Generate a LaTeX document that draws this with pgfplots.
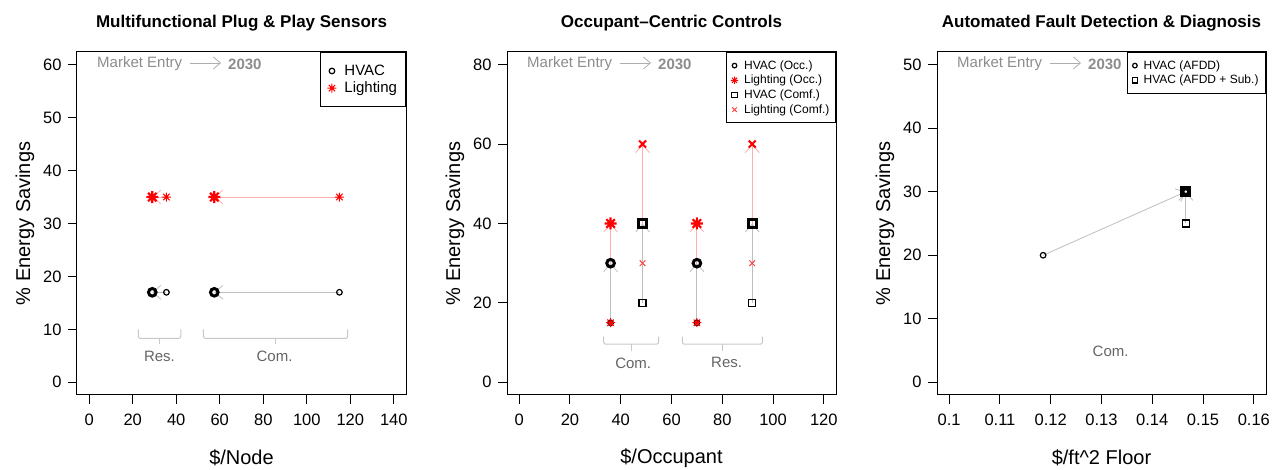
\documentclass[border=0pt]{standalone}
\usepackage{fontspec}
\setmainfont{Liberation Sans}
\usepackage{pgfplots}
\pgfplotsset{compat=1.18}
\usetikzlibrary{arrows.meta}
\definecolor{arrgray}{RGB}{190,190,190}
\definecolor{arrpink}{RGB}{255,175,175}
\definecolor{txtgray}{RGB}{140,140,140}
\definecolor{lblgray}{RGB}{100,100,100}
\definecolor{brkgray}{RGB}{200,200,200}
\definecolor{rred}{RGB}{255,0,0}

% R's pch=8: a plus laid over an x
\pgfdeclareplotmark{rast}{%
  \pgfpathmoveto{\pgfqpoint{-\pgfplotmarksize}{0pt}}\pgfpathlineto{\pgfqpoint{\pgfplotmarksize}{0pt}}%
  \pgfpathmoveto{\pgfqpoint{0pt}{-\pgfplotmarksize}}\pgfpathlineto{\pgfqpoint{0pt}{\pgfplotmarksize}}%
  \pgfpathmoveto{\pgfqpoint{-.7071\pgfplotmarksize}{-.7071\pgfplotmarksize}}\pgfpathlineto{\pgfqpoint{.7071\pgfplotmarksize}{.7071\pgfplotmarksize}}%
  \pgfpathmoveto{\pgfqpoint{-.7071\pgfplotmarksize}{.7071\pgfplotmarksize}}\pgfpathlineto{\pgfqpoint{.7071\pgfplotmarksize}{-.7071\pgfplotmarksize}}%
  \pgfusepathqstroke}

\pgfplotsset{
  rplot/.style={
    scale only axis, width=329pt, height=343pt, anchor=south west,
    axis line style={line width=1pt},
    every tick/.style={line width=1pt, black},
    major tick length=9pt, tick align=outside,
    xtick pos=left, ytick pos=left,
    /pgf/number format/assume math mode=true,
    tick label style={font=\fontsize{16.5}{19}\selectfont},
    xticklabel style={yshift=-6pt},
    yticklabel style={xshift=-3pt},
    label style={font=\fontsize{20}{24}\selectfont},
    xlabel style={at={(axis description cs:0.5,-0.1837)}, anchor=center},
    ylabel style={at={(axis description cs:-0.158,0.5)}, anchor=center},
    title style={at={(axis description cs:0.5,1.067)}, anchor=center,
      font=\bfseries\fontsize{17}{20}\selectfont},
    legend style={at={(1,1)}, anchor=north east, draw=black, line width=1pt,
      fill=white},
    legend cell align=left,
  },
  garr/.style={arrgray, line width=0.8pt, forget plot, no markers,
    -{Straight Barb[length=8pt,width=14pt,line width=0.8pt]}},
  parr/.style={arrpink, line width=0.8pt, forget plot, no markers,
    -{Straight Barb[length=8pt,width=14pt,line width=0.8pt]}},
  brk/.style={brkgray, line width=1pt, forget plot, no markers},
  hvS/.style={black, only marks, mark=o, mark size=2.8pt, mark options={line width=1.2pt}},
  hvB/.style={black, only marks, mark=o, mark size=3.8pt, mark options={line width=3pt}},
  ltS/.style={rred, only marks, mark=rast, mark size=4.5pt, mark options={line width=1pt}},
  ltB/.style={rred, only marks, mark=rast, mark size=6pt, mark options={line width=2.2pt}},
  sqS/.style={black, only marks, mark=square, mark size=3.5pt, mark options={line width=1.2pt}},
  sqB/.style={black, only marks, mark=square, mark size=4pt, mark options={line width=3pt}},
  xS/.style={rred!75, only marks, mark=x, mark size=4pt, mark options={line width=1pt}},
  xB/.style={rred, only marks, mark=x, mark size=5pt, mark options={line width=2pt}},
}

\begin{document}
\begin{tikzpicture}
\useasboundingbox (0,0) rectangle (1278pt,470pt);

% ---- panel 1
\begin{axis}[rplot, at={(77pt,75pt)},
  title={Multifunctional Plug \& Play Sensors},
  xlabel={\$/Node}, ylabel={\% Energy Savings},
  xmin=-5.6, xmax=145.6, ymin=-2.4, ymax=62.4,
  xtick={0,20,...,140}, ytick={0,10,...,60},
  legend style={font=\fontsize{15}{17}\selectfont, inner xsep=6.5pt, inner ysep=10.5pt,
    row sep=1pt, /tikz/every odd column/.append style={column sep=6pt}}]
\addlegendimage{hvS}\addlegendentry{HVAC}
\addlegendimage{ltS}\addlegendentry{Lighting}
\addplot[parr] coordinates {(35.5,35) (29,35)};
\addplot[parr] coordinates {(115,35) (57.5,35)};
\addplot[garr] coordinates {(35.5,17) (29,17)};
\addplot[garr] coordinates {(115,17) (57.5,17)};
\addplot[hvS, forget plot] coordinates {(35.5,17) (115,17)};
\addplot[hvB, forget plot] coordinates {(29,17) (57.5,17)};
\addplot[ltS, forget plot] coordinates {(35.5,35) (115,35)};
\addplot[ltB, forget plot] coordinates {(29,35) (57.5,35)};
\addplot[brk, rounded corners=2pt] coordinates {(22.6,10) (22.6,8.3) (42.1,8.3) (42.1,10)};
\addplot[brk] coordinates {(32.35,8.3) (32.35,7.3)};
\addplot[brk, rounded corners=2pt] coordinates {(52.5,10) (52.5,8.3) (118.8,8.3) (118.8,10)};
\addplot[brk] coordinates {(85.6,8.3) (85.6,7.3)};
\node[lblgray, font=\fontsize{15}{18}\selectfont] at (axis cs:32.3,4.9) {Res.};
\node[lblgray, font=\fontsize{15}{18}\selectfont] at (axis cs:85.2,4.9) {Com.};
\end{axis}

% ---- panel 2
\begin{axis}[rplot, at={(507pt,75pt)},
  title={Occupant--Centric Controls},
  xlabel={\$/Occupant}, ylabel={\% Energy Savings},
  xmin=-4.8, xmax=124.8, ymin=-3.2, ymax=83.2,
  xtick={0,20,...,120}, ytick={0,20,...,80},
  legend style={font=\fontsize{12}{13.5}\selectfont, inner xsep=4pt, inner ysep=6pt,
    row sep=0.5pt, /tikz/every odd column/.append style={column sep=4pt}}]
\addlegendimage{hvS, mark size=2.3pt}\addlegendentry{HVAC (Occ.)}
\addlegendimage{ltS, mark size=3.6pt}\addlegendentry{Lighting (Occ.)}
\addlegendimage{sqS, mark size=2.8pt}\addlegendentry{HVAC (Comf.)}
\addlegendimage{xS, mark size=3.2pt}\addlegendentry{Lighting (Comf.)}
\addplot[parr] coordinates {(36,15) (36,40)};
\addplot[parr] coordinates {(70,15) (70,40)};
\addplot[parr] coordinates {(48.6,30) (48.6,60)};
\addplot[parr] coordinates {(91.8,30) (91.8,60)};
\addplot[garr] coordinates {(36,15) (36,30)};
\addplot[garr] coordinates {(70,15) (70,30)};
\addplot[garr] coordinates {(48.6,20) (48.6,40)};
\addplot[garr] coordinates {(91.8,20) (91.8,40)};
\addplot[hvS, forget plot] coordinates {(36,15) (70,15)};
\addplot[ltS, forget plot] coordinates {(36,15) (70,15)};
\addplot[hvB, forget plot] coordinates {(36,30) (70,30)};
\addplot[ltB, forget plot] coordinates {(36,40) (70,40)};
\addplot[sqS, forget plot] coordinates {(48.6,20) (91.8,20)};
\addplot[sqB, forget plot] coordinates {(48.6,40) (91.8,40)};
\addplot[xS, forget plot] coordinates {(48.6,30) (91.8,30)};
\addplot[xB, forget plot] coordinates {(48.6,60) (91.8,60)};
\addplot[brk, rounded corners=2pt] coordinates {(33.3,11.5) (33.3,9.6) (54.9,9.6) (54.9,11.5)};
\addplot[brk] coordinates {(44.1,9.6) (44.1,8.0)};
\addplot[brk, rounded corners=2pt] coordinates {(64.3,11.5) (64.3,9.6) (95.8,9.6) (95.8,11.5)};
\addplot[brk] coordinates {(80.2,9.6) (80.2,8.0)};
\node[lblgray, font=\fontsize{15}{18}\selectfont] at (axis cs:44.9,4.9) {Com.};
\node[lblgray, font=\fontsize{15}{18}\selectfont] at (axis cs:81.7,4.9) {Res.};
\end{axis}

% ---- panel 3
\begin{axis}[rplot, at={(937pt,75pt)},
  title={Automated Fault Detection \& Diagnosis},
  xlabel={\$/ft\textasciicircum 2 Floor}, ylabel={\% Energy Savings},
  xmin=0.0976, xmax=0.1624, ymin=-2, ymax=52,
  xtick={0.1,0.11,0.12,0.13,0.14,0.15,0.16},
  xticklabels={0.1,0.11,0.12,0.13,0.14,0.15,0.16},
  ytick={0,10,...,50},
  legend style={font=\fontsize{12}{13.5}\selectfont, inner xsep=5pt, inner ysep=6pt,
    row sep=0.5pt, /tikz/every odd column/.append style={column sep=4pt}}]
\addlegendimage{hvS, mark size=2.3pt}\addlegendentry{HVAC (AFDD)}
\addlegendimage{sqS, mark size=2.8pt}\addlegendentry{HVAC (AFDD + Sub.)}
\addplot[garr] coordinates {(0.1185,20) (0.1466,30)};
\addplot[garr] coordinates {(0.1466,25) (0.1466,30)};
\addplot[hvS, forget plot] coordinates {(0.1185,20)};
\addplot[sqS, forget plot] coordinates {(0.1466,25)};
\addplot[sqB, forget plot] coordinates {(0.1466,30)};
\addplot[hvB, mark size=2.5pt, mark options={line width=2pt}, forget plot] coordinates {(0.1466,30)};
\node[lblgray, font=\fontsize{15}{18}\selectfont] at (axis cs:0.1318,4.9) {Com.};
\end{axis}

% ---- "Market Entry -> 2030" notes
\foreach \o in {0,430,860}{
  \node[anchor=west, inner sep=0pt, txtgray, font=\fontsize{15}{18}\selectfont]
    at ({\o pt+97pt},406pt) {Market Entry};
  \draw[txtgray!70, line width=0.8pt, -{Straight Barb[length=7pt,width=12pt,line width=0.8pt]}]
    ({\o pt+190pt},407pt) -- ({\o pt+221pt},407pt);
  \node[anchor=west, inner sep=0pt, txtgray, font=\bfseries\fontsize{15}{18}\selectfont]
    at ({\o pt+228pt},406pt) {2030};
}
\end{tikzpicture}
\end{document}
